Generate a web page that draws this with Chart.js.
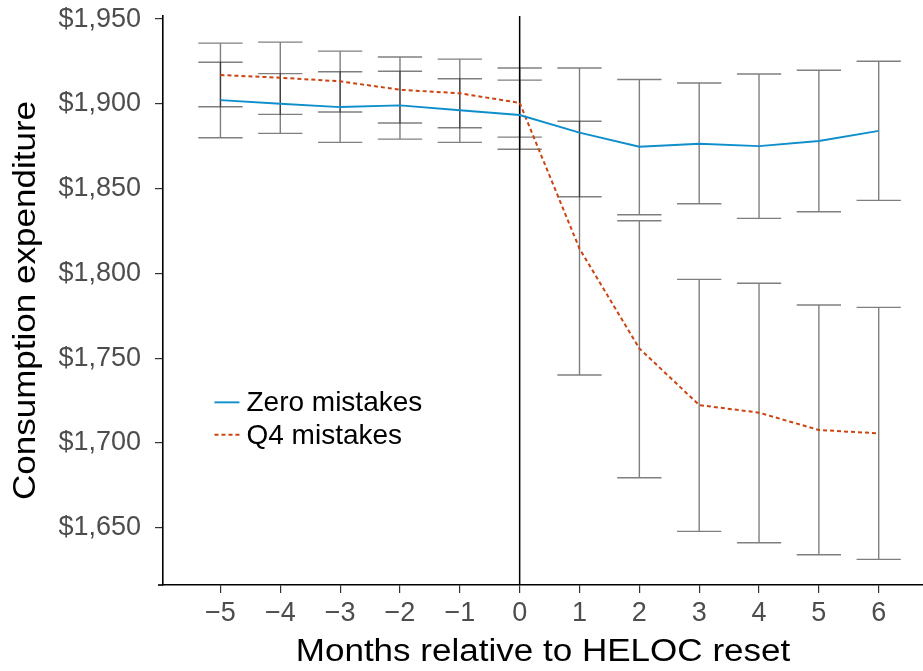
<!DOCTYPE html>
<html><head><meta charset="utf-8">
<script src="https://cdn.jsdelivr.net/npm/chart.js@4.4.0/dist/chart.umd.min.js"></script>
<style>html,body{margin:0;padding:0;background:#fff;} canvas{display:block;}</style>
</head><body>
<canvas id="c" width="923" height="671"></canvas>
<script>
// ---- data ----
const months = [-5, -4, -3, -2, -1, 0, 1, 2, 3, 4, 5, 6];
const seriesNames = ['Zero mistakes', 'Q4 mistakes'];
const zeroMean = [1902.2, 1900.1, 1898.1, 1899.1, 1896.2, 1893.4, 1883.0, 1874.7, 1876.5, 1875.1, 1878.1, 1884.1];
const zeroLow  = [1880.0, 1882.6, 1877.3, 1879.2, 1877.3, 1873.2, 1845.2, 1834.6, 1841.1, 1832.5, 1836.4, 1843.1];
const zeroHigh = [1924.5, 1917.8, 1918.9, 1919.2, 1914.8, 1914.0, 1921.1, 1914.4, 1912.3, 1917.6, 1919.8, 1925.1];
const q4Mean   = [1917.0, 1915.4, 1913.3, 1908.3, 1906.2, 1900.6, 1814.6, 1755.8, 1722.4, 1717.9, 1707.7, 1705.7];
const q4Low    = [1898.3, 1893.8, 1895.2, 1888.7, 1885.9, 1880.4, 1740.1, 1679.5, 1647.9, 1641.2, 1634.1, 1631.4];
const q4High   = [1935.8, 1936.4, 1931.1, 1927.6, 1926.4, 1921.1, 1889.7, 1831.1, 1796.5, 1794.2, 1781.4, 1780.0];
const xTickValues = [-5, -4, -3, -2, -1, 0, 1, 2, 3, 4, 5, 6];
const yTickValues = [1650, 1700, 1750, 1800, 1850, 1900, 1950];
const resetMonth = 0;
const xTitle = 'Months relative to HELOC reset';
const yTitle = 'Consumption expenditure';

// ---- styles ----
const FONT = "'Liberation Sans', Arial, Helvetica, sans-serif";
const BLUE = '#0E8FCC';
const RED = '#CC4410';
const CAP_HALF = 0.37; // x units
const LEGEND_AT = {x: -5.1, y: 1724};

Chart.defaults.font.family = FONT;

const pts = (ys) => months.map((m, i) => ({x: m, y: ys[i]}));

const errorBars = {
  id: 'errorBars',
  beforeDatasetsDraw(chart) {
    const {ctx, scales: {x, y}, chartArea} = chart;
    ctx.save();
    ctx.strokeStyle = 'rgba(0,0,0,0.5)';
    ctx.lineWidth = 1.4;
    [[zeroLow, zeroHigh], [q4Low, q4High]].forEach(([lo, hi]) => {
      months.forEach((m, i) => {
        const px = x.getPixelForValue(m);
        const pl = x.getPixelForValue(m - CAP_HALF), pr = x.getPixelForValue(m + CAP_HALF);
        const yl = y.getPixelForValue(lo[i]), yh = y.getPixelForValue(hi[i]);
        ctx.beginPath();
        ctx.moveTo(px, yl); ctx.lineTo(px, yh);
        ctx.moveTo(pl, yl); ctx.lineTo(pr, yl);
        ctx.moveTo(pl, yh); ctx.lineTo(pr, yh);
        ctx.stroke();
      });
    });
    const vx = x.getPixelForValue(resetMonth);
    ctx.strokeStyle = '#000';
    ctx.lineWidth = 1.5;
    ctx.beginPath();
    ctx.moveTo(vx, chartArea.top); ctx.lineTo(vx, chartArea.bottom);
    ctx.stroke();
    ctx.restore();
  }
};

const legendAndTitles = {
  id: 'legendAndTitles',
  afterDraw(chart) {
    const {ctx, scales: {x, y}, chartArea} = chart;
    ctx.save();
    // extend x axis line a little to the left, as in reference
    ctx.strokeStyle = '#000';
    ctx.lineWidth = 1.6;
    ctx.beginPath();
    ctx.moveTo(chartArea.left - 5, chartArea.bottom); ctx.lineTo(chartArea.left, chartArea.bottom);
    ctx.stroke();
    // legend
    const lx = x.getPixelForValue(LEGEND_AT.x), ly = y.getPixelForValue(LEGEND_AT.y);
    chart.data.datasets.forEach((ds, i) => {
      const cy = ly + i * 32.5;
      ctx.strokeStyle = ds.borderColor;
      ctx.lineWidth = ds.borderWidth;
      ctx.setLineDash(ds.borderDash || []);
      ctx.beginPath(); ctx.moveTo(lx, cy); ctx.lineTo(lx + 25, cy); ctx.stroke();
      ctx.setLineDash([]);
      ctx.fillStyle = '#000';
      ctx.font = '28px ' + FONT;
      ctx.textBaseline = 'middle';
      ctx.textAlign = 'left';
      ctx.fillText(ds.label, lx + 32, cy + 1);
    });
    // axis titles (wide lettering as in reference)
    ctx.fillStyle = '#000';
    ctx.font = '31px ' + FONT;
    ctx.textAlign = 'center';
    ctx.textBaseline = 'alphabetic';
    const cx = (chartArea.left + chartArea.right) / 2;
    ctx.save();
    ctx.translate(cx, 661);
    ctx.scale(1.13, 1);
    ctx.fillText(xTitle, 0, 0);
    ctx.restore();
    const cyT = (chartArea.top + chartArea.bottom) / 2;
    ctx.save();
    ctx.translate(35, cyT);
    ctx.rotate(-Math.PI / 2);
    ctx.scale(1.13, 1);
    ctx.fillText(yTitle, 0, 0);
    ctx.restore();
    ctx.restore();
  }
};

new Chart(document.getElementById('c'), {
  type: 'line',
  data: {
    datasets: [
      {label: seriesNames[0], data: pts(zeroMean), borderColor: BLUE, borderWidth: 1.9, pointRadius: 0, fill: false, tension: 0},
      {label: seriesNames[1], data: pts(q4Mean), borderColor: RED, borderWidth: 2, borderDash: [4, 3], pointRadius: 0, fill: false, tension: 0}
    ]
  },
  options: {
    responsive: false,
    animation: false,
    devicePixelRatio: 1,
    layout: {padding: {top: 16, right: 0, left: 0, bottom: 0}},
    plugins: {legend: {display: false}, tooltip: {enabled: false}},
    scales: {
      x: {
        type: 'linear', min: -5.96, max: 6.74,
        afterFit(s) { s.height = 86; s.paddingLeft = 0; s.paddingRight = 0; },
        afterBuildTicks(s) { s.ticks = xTickValues.map(v => ({value: v})); },
        ticks: {
          autoSkip: false, maxRotation: 0, padding: 4, color: '#4D4D4D',
          font: {size: 27, family: FONT},
          callback: (v) => (v < 0 ? '\u2212' + Math.abs(v) : String(v))
        },
        grid: {drawOnChartArea: false, drawTicks: true, tickLength: 8, color: '#333', lineWidth: 1.2},
        border: {display: true, color: '#000', width: 1.6}
      },
      y: {
        type: 'linear', min: 1616.3, max: 1951.8,
        afterFit(s) { s.width = 163; s.paddingTop = 0; s.paddingBottom = 0; },
        afterBuildTicks(s) { s.ticks = yTickValues.map(v => ({value: v})); },
        ticks: {
          autoSkip: false, padding: 14, color: '#4D4D4D',
          font: {size: 27, family: FONT},
          callback: (v) => '$' + v.toLocaleString('en-US')
        },
        grid: {drawOnChartArea: false, drawTicks: true, tickLength: 8, color: '#333', lineWidth: 1.2},
        border: {display: true, color: '#000', width: 1.6}
      }
    }
  },
  plugins: [errorBars, legendAndTitles]
});
</script>
</body></html>
